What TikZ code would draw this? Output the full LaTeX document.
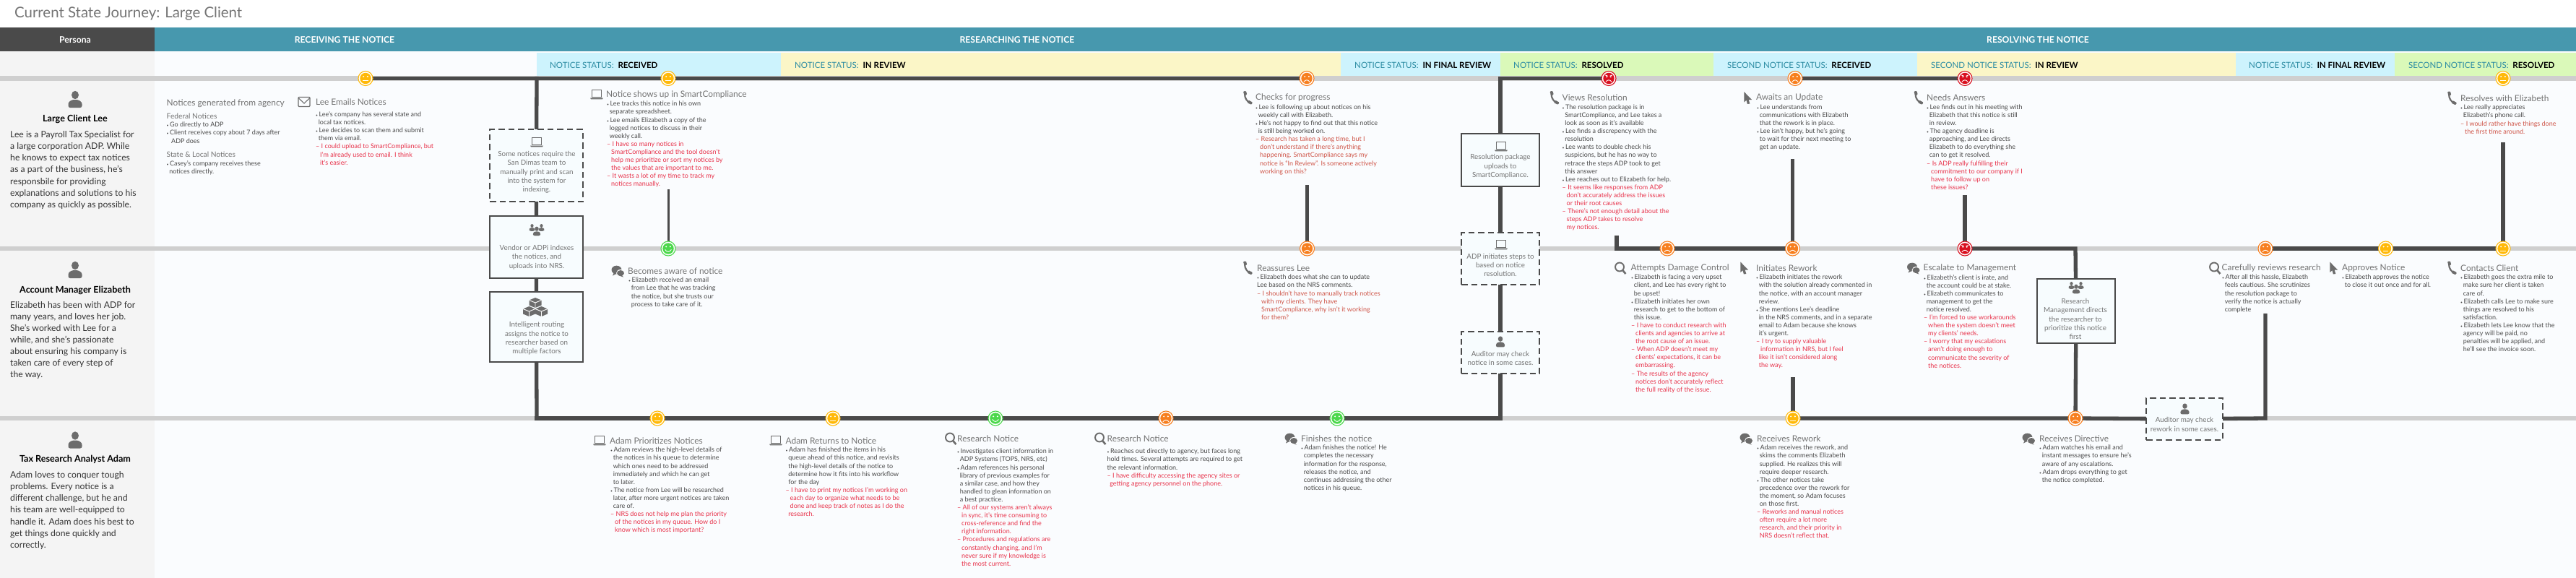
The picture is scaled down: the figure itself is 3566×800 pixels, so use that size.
\documentclass[tikz,border=0pt]{standalone}
\usepackage{fontspec}
\setmainfont{Lato}
\usetikzlibrary{backgrounds}
\definecolor{inkdark}{HTML}{4A4A4A}
\definecolor{rowgray}{HTML}{CFCFCF}
\definecolor{headteal}{HTML}{4798AE}
\definecolor{statusteal}{HTML}{2C8CA3}
\definecolor{statusblue}{HTML}{CDF3FD}
\definecolor{statusyellow}{HTML}{FBF6C7}
\definecolor{statusgreen}{HTML}{DAF9B9}
\definecolor{panelgray}{HTML}{F4F4F4}
\definecolor{panelblue}{HTML}{FAFCFE}
\definecolor{boxblue}{HTML}{F7FCFE}
\definecolor{headgray}{HTML}{747474}
\definecolor{bodygray}{HTML}{4A4A4A}
\definecolor{painred}{HTML}{E8324A}
\definecolor{mutedred}{HTML}{CF5548}
\definecolor{iconcolor}{HTML}{6C6C6C}
\definecolor{goodgreen}{HTML}{4CD84C}
\definecolor{plainyellow}{HTML}{FFB908}
\definecolor{sadorange}{HTML}{F77F1F}
\definecolor{madred}{HTML}{D9101F}
\newcommand{\itm}{{\fontsize{5}{5}\selectfont\textbullet}\,}
\newcommand{\ind}{\hspace*{3.6pt}}
\newcommand{\hurts}{\color{painred}}
\newcommand{\hurtsm}{\color{mutedred}}
\newcommand{\ri}{\color{painred}\hspace*{6pt}}
\newcommand{\rk}{\color{painred}\hspace*{3.6pt}}
\newcommand{\rj}{\color{mutedred}\hspace*{6pt}}
\tikzset{
every pic/.style={color=iconcolor},
title/.style={anchor=west, inner sep=0, text=headgray, font=\fontsize{20.4}{20.4}\selectfont},
headlabel/.style={inner sep=0, text=white, font=\fontsize{12.2}{12.2}\selectfont\bfseries},
statuslabel/.style={anchor=west, inner sep=0, text=statusteal, font=\fontsize{11.5}{11.5}\selectfont},
personaname/.style={inner sep=0, text=black, font=\fontsize{12.6}{12.6}\selectfont\bfseries},
personatext/.style={anchor=north west, inner sep=0, align=left, text=black!80, font=\fontsize{12.2}{16.1}\selectfont},
notehead/.style={anchor=west, inner sep=0, text=headgray, font=\fontsize{11.9}{11.9}\selectfont},
subhead/.style={anchor=west, inner sep=0, text=headgray, font=\fontsize{10.2}{10.2}\selectfont},
notebody/.style={anchor=north west, inner sep=0, align=left, text=bodygray, font=\fontsize{9}{11.1}\selectfont},
stepbox/.style={draw=inkdark, line width=2.5pt, fill=boxblue, inner sep=0},
maybebox/.style={stepbox, dash pattern=on 8.5pt off 5pt},
boxtext/.style={inner sep=0, align=center, text=headgray, font=\fontsize{9.8}{12.3}\selectfont},
rowline/.style={rowgray, line width=6.5pt},
track/.style={inkdark, line width=5.3pt, line cap=rect},
basicface/.style={circle, minimum size=20pt, inner sep=0, draw=#1, line width=1.1pt, fill=white},
goodface/.style={basicface=goodgreen, path picture={
	\fill[goodgreen] (path picture bounding box.center) circle (7.7pt);
	\begin{scope}[shift={(path picture bounding box.center)}, white, line width=.9pt]
	\fill (-2.8,-2.6) circle (1.1pt) (2.8,-2.6) circle (1.1pt);
	\draw (-4.4,1.4) .. controls (-2,5.4) and (2,5.4) .. (4.4,1.4);
	\end{scope}}},
plainface/.style={basicface=plainyellow, path picture={
	\fill[plainyellow] (path picture bounding box.center) circle (7.7pt);
	\begin{scope}[shift={(path picture bounding box.center)}, white, line width=.9pt]
	\fill (-2.8,-2.6) circle (1.1pt) (2.8,-2.6) circle (1.1pt);
	\draw (-3.8,3) -- (3.8,3);
	\end{scope}}},
sadface/.style={basicface=sadorange, path picture={
	\fill[sadorange] (path picture bounding box.center) circle (7.7pt);
	\begin{scope}[shift={(path picture bounding box.center)}, white, line width=.9pt]
	\fill (-2.8,-2.6) circle (1.1pt) (2.8,-2.6) circle (1.1pt);
	\draw (-4.2,5) .. controls (-2,1.4) and (2,1.4) .. (4.2,5);
	\end{scope}}},
madface/.style={basicface=madred, path picture={
	\fill[madred] (path picture bounding box.center) circle (7.7pt);
	\begin{scope}[shift={(path picture bounding box.center)}, white, line width=.9pt]
	\fill (-2.8,-2.2) circle (1.1pt) (2.8,-2.2) circle (1.1pt);
	\draw (-4.8,-4.6) -- (-1.4,-3.2) (4.8,-4.6) -- (1.4,-3.2);
	\draw (-4.2,5) .. controls (-2,1.4) and (2,1.4) .. (4.2,5);
	\end{scope}}},
pics/personicon/.style={code={
	\fill (0,-6) ellipse (5 and 5.7);
	\fill[rounded corners=2.5] (-9.5,11.5) -- (-9.5,4) -- (-4,.5) -- (4,.5) -- (9.5,4) -- (9.5,11.5) -- cycle;}},
pics/teamicon/.style={code={
	\pic[scale=.42] at (-6.5,-3) {personicon};
	\pic[scale=.42] at (6.5,-3) {personicon};
	\pic[scale=.55] at (0,2) {personicon};}},
pics/laptopicon/.style={code={
	\draw[line width=1.1pt] (-6.5,-6.5) rectangle (6.5,3.5);
	\fill (-9,4.5) -- (9,4.5) -- (8,6.3) -- (-8,6.3) -- cycle;}},
pics/mailicon/.style={code={
	\draw[line width=1.1pt, rounded corners=1pt] (-8,-6.5) rectangle (8,6.5);
	\draw[line width=1.1pt] (-8,-5.5) -- (0,2) -- (8,-5.5);}},
pics/phoneicon/.style={code={
	\draw[line width=2.2pt] (-4.5,-6) .. controls (-4.5,1) and (-1,5.5) .. (4,7);
	\fill[rounded corners=1pt] (-6.6,-9) -- (-2.6,-9.6) -- (-1.2,-4.5) -- (-4.8,-3.2) -- cycle;
	\fill[rounded corners=1pt] (1,3.2) -- (6.6,6.2) -- (4.8,9.4) -- (-.8,6.8) -- cycle;}},
pics/chaticon/.style={code={
	\fill (-1.5,-1.5) ellipse (7 and 5.8);
	\fill (-5,2) -- (-7,6.5) -- (-1,3.5) -- cycle;
	\fill[white] (4,3) ellipse (6 and 5);
	\fill (4,3) ellipse (5 and 4);
	\fill (5,5) -- (8,8.5) -- (2,6.5) -- cycle;}},
pics/lensicon/.style={code={
	\draw[line width=1.9pt] (-1,-1.5) circle (6);
	\draw[line width=2.6pt] (3.4,3.2) -- (7.4,8);}},
pics/cursoricon/.style={code={
	\fill (-5.2,-8.5) -- (5.6,2.6) -- (1.2,2.6) -- (2.8,8) -- (-.6,8.5) -- (-2,3.2) -- (-5.2,6) -- cycle;}},
pics/blockicon/.style={code={
	\fill (0,-7) -- (8.5,-3.5) -- (8.5,3.5) -- (0,7) -- (-8.5,3.5) -- (-8.5,-3.5) -- cycle;
	\draw[white, line width=.9pt] (-8.5,-3.5) -- (0,0) -- (8.5,-3.5) (0,0) -- (0,7);}},
pics/cubesicon/.style={code={
	\pic at (0,-6) {blockicon};
	\pic at (-8.5,6) {blockicon};
	\pic at (8.5,6) {blockicon};}}
}

\begin{document}
\begin{tikzpicture}[x=1pt, y=-1pt]
\useasboundingbox (0,0) rectangle (3566,800);

\node[title] (pagetitle) at (20,19) {Current State Journey: Large Client};
\node[headlabel] (personalabel) at (104,55) {Persona};
\node[headlabel] (receivinglabel) at (477,55) {RECEIVING THE NOTICE};
\node[headlabel] (researchinglabel) at (1408,55) {RESEARCHING THE NOTICE};
\node[headlabel] (resolvinglabel) at (2821,55) {RESOLVING THE NOTICE};

\node[statuslabel] (statusa) at (761,90) {NOTICE STATUS:\ \ \textcolor{black}{\bfseries RECEIVED}};
\node[statuslabel] (statusb) at (1100,90) {NOTICE STATUS:\ \ \textcolor{black}{\bfseries IN REVIEW}};
\node[statuslabel] (statusc) at (1875,90) {NOTICE STATUS:\ \ \textcolor{black}{\bfseries IN FINAL REVIEW}};
\node[statuslabel] (statusd) at (2095,90) {NOTICE STATUS:\ \ \textcolor{black}{\bfseries RESOLVED}};
\node[statuslabel] (statuse) at (2391,90) {SECOND NOTICE STATUS:\ \ \textcolor{black}{\bfseries RECEIVED}};
\node[statuslabel] (statusf) at (2673,90) {SECOND NOTICE STATUS:\ \ \textcolor{black}{\bfseries IN REVIEW}};
\node[statuslabel] (statusg) at (3113,90) {NOTICE STATUS:\ \ \textcolor{black}{\bfseries IN FINAL REVIEW}};
\node[statuslabel] (statush) at (3334,90) {SECOND NOTICE STATUS:\ \ \textcolor{black}{\bfseries RESOLVED}};

\pic[black] at (104,137.5) {personicon};
\node[personaname] (leename) at (104,165) {Large Client Lee};
\node[personatext] (leetext) at (14,181.5) {Lee is a Payroll Tax Specialist for\\a large corporation ADP. While\\he knows to expect tax notices\\as a part of the business, he’s\\responsbile for providing\\explanations and solutions to his\\company as quickly as possible.};
\pic[black] at (104,373.5) {personicon};
\node[personaname] (elizabethname) at (104,401.5) {Account Manager Elizabeth};
\node[personatext] (elizabethtext) at (14,417) {Elizabeth has been with ADP for\\many years, and loves her job.\\She’s worked with Lee for a\\while, and she’s passionate\\about ensuring his company is\\taken care of every step of\\the way.};
\pic[black] at (104,609) {personicon};
\node[personaname] (adamname) at (104,636) {Tax Research Analyst Adam};
\node[personatext] (adamtext) at (14,652.5) {Adam loves to conquer tough\\problems. Every notice is a\\different challenge, but he and\\his team are well-equipped to\\handle it. Adam does his best to\\get things done quickly and\\correctly.};

\node[plainface] (facea) at (506,108.5) {};
\node[plainface] (faceb) at (925,108.5) {};
\node[sadface] (facec) at (1809,108.5) {};
\node[madface] (faced) at (2227,108.5) {};
\node[sadface] (facee) at (2485,108.5) {};
\node[madface] (facef) at (2720,108.5) {};
\node[plainface] (faceg) at (3465,108.5) {};
\node[goodface] (middlea) at (925,344) {};
\node[sadface] (middleb) at (1809.5,344) {};
\node[sadface] (middlec) at (2308,344) {};
\node[sadface] (middled) at (2481.5,344) {};
\node[madface] (middlee) at (2720,344) {};
\node[sadface] (middlef) at (3136,344) {};
\node[plainface] (middleg) at (3302.5,344) {};
\node[plainface] (middleh) at (3465,344) {};
\node[plainface] (lowera) at (910,579) {};
\node[plainface] (lowerb) at (1153,579) {};
\node[goodface] (lowerc) at (1378,579) {};
\node[sadface] (lowerd) at (1614,579) {};
\node[goodface] (lowere) at (1851,579) {};
\node[plainface] (lowerf) at (2482,579) {};
\node[sadface] (lowerg) at (2873,579) {};

\coordinate (turna) at (743,108.5);
\coordinate (turnb) at (743,579);
\coordinate (turnc) at (2077,579);
\coordinate (turnd) at (2077,108.5);
\coordinate (turne) at (2873,344);
\coordinate (turnf) at (3136,579);
\coordinate (elbowa) at (2238,344);
\coordinate (stema) at (925,263.5);
\coordinate (stemb) at (1809.5,258.6);
\coordinate (stemc) at (2238,328.6);
\coordinate (stemd) at (2481.5,222.6);
\coordinate (steme) at (2720,272.6);
\coordinate (stemf) at (3136,436.6);
\coordinate (stemg) at (2482,524.6);
\coordinate (stemh) at (3465,199.6);

\node[maybebox, minimum width=129pt, minimum height=100pt] (printbox) at (742.5,229) {};
\pic at (743,197) {laptopicon};
\node[boxtext] (printtext) at (743,238.5) {Some notices require the\\San Dimas team to\\manually print and scan\\into the system for\\indexing.};
\node[stepbox, minimum width=129pt, minimum height=86pt] (vendorbox) at (742.5,342) {};
\pic at (743,318) {teamicon};
\node[boxtext] (vendortext) at (743,356) {Vendor or ADPi indexes\\the notices, and\\uploads into NRS.};
\node[stepbox, minimum width=129pt, minimum height=97pt] (routingbox) at (742.5,452.5) {};
\pic at (741,425) {cubesicon};
\node[boxtext] (routingtext) at (743,468.5) {Intelligent routing\\assigns the notice to\\researcher based on\\multiple factors};
\node[stepbox, minimum width=108pt, minimum height=73pt] (packagebox) at (2077,221.5) {};
\pic at (2078,203) {laptopicon};
\node[boxtext] (packagetext) at (2077,230.5) {Resolution package\\uploads to\\SmartCompliance.};
\node[maybebox, minimum width=108pt, minimum height=72pt] (stepsbox) at (2077,358) {};
\pic at (2078,339) {laptopicon};
\node[boxtext] (stepstext) at (2077,367) {ADP initiates steps to\\based on notice\\resolution.};
\node[maybebox, minimum width=108pt, minimum height=58pt] (auditorabox) at (2077,488) {};
\pic[scale=.65] at (2077,473) {personicon};
\node[boxtext] (auditoratext) at (2077,496) {Auditor may check\\notice in some cases.};
\node[stepbox, minimum width=108pt, minimum height=89pt] (managementbox) at (2874,430.5) {};
\pic[scale=1] at (2874,398) {teamicon};
\node[boxtext] (managementtext) at (2873,441.5) {Research\\Management directs\\the researcher to\\prioritize this notice\\first};
\node[maybebox, minimum width=106pt, minimum height=58pt] (auditorbbox) at (3024,580) {};
\pic[scale=.65] at (3024.5,566) {personicon};
\node[boxtext] (auditorbtext) at (3024,587.5) {Auditor may check\\rework in some cases.};

\node[notehead] (agencyhead) at (230.5,143) {Notices generated from agency};
\node[subhead] (federalhead) at (230.5,160.5) {Federal Notices};
\node[notebody] (federalbody) at (230.5,169) {\itm Go directly to ADP\\\itm Client receives copy about 7 days after\\\hspace*{6.5pt}ADP does};
\node[subhead] (statehead) at (230.5,214) {State \& Local Notices};
\node[notebody] (statebody) at (230.5,222) {\itm Casey’s company receives these\\\ind notices directly.};

\pic at (421,141) {mailicon};
\node[notehead] (emailshead) at (437,141) {Lee Emails Notices};
\node[notebody] (emailsbody) at (437,154.5) {\itm Lee’s company has several state and\\\ind local tax notices.\\\itm Lee decides to scan them and submit\\\ind them via email.\\\hurts – I could upload to SmartCompliance, but\\\ri I’m already used to email. I think\\\ri it’s easier.};

\pic at (826,131) {laptopicon};
\node[notehead] (showshead) at (839,131) {Notice shows up in SmartCompliance};
\node[notebody] (showsbody) at (840,140) {\itm Lee tracks this notice in his own\\\ind separate spreadsheet.\\\itm Lee emails Elizabeth a copy of the\\\ind logged notices to discuss in their\\\ind weekly call.\\\hurts – I have so many notices in\\\ri SmartCompliance and the tool doesn’t\\\ri help me prioritize or sort my notices by\\\ri the values that are important to me.\\\hurts – It wasts a lot of my time to track my\\\ri notices manually.};

\pic at (855,375) {chaticon};
\node[notehead] (awarehead) at (869,375) {Becomes aware of notice};
\node[notebody] (awarebody) at (870,384) {\itm Elizabeth received an email\\\ind from Lee that he was tracking\\\ind the notice, but she trusts our\\\ind process to take care of it.};

\pic at (830,610) {laptopicon};
\node[notehead] (prioritizehead) at (844,610) {Adam Prioritizes Notices};
\node[notebody] (prioritizebody) at (845,619) {\itm Adam reviews the high-level details of\\\ind the notices in his queue to determine\\\ind which ones need to be  addressed\\\ind immediately and which he can get\\\ind to later.\\\itm The notice from Lee will be researched\\\ind later, after more urgent notices are taken\\\ind care of.\\\hurts – NRS does not help me plan the priority\\\ri of the notices in my queue. How do I\\\ri know which is most important?};

\pic at (1074,610) {laptopicon};
\node[notehead] (returnshead) at (1087.5,610) {Adam Returns to Notice};
\node[notebody] (returnsbody) at (1087.5,619) {\itm Adam has finished the items in his\\\ind queue ahead of this notice, and revisits\\\ind the high-level details of  the notice to\\\ind determine how it fits into his workflow\\\ind for the day\\\hurts – I have to print my notices I’m working on\\\ri each day to organize what needs to be\\\ri done and keep track of notes as I do the\\\rk research.};

\pic at (1316,607) {lensicon};
\node[notehead] (researchahead) at (1325,607) {Research Notice};
\node[notebody] (researchabody) at (1325,621) {\itm Investigates client information in\\\ind ADP Systems (TOPS, NRS, etc)\\\itm Adam references his personal\\\ind library of previous examples for\\\ind a similar case, and how they\\\ind handled to glean information on\\\ind a best practice.\\\hurts – All of our systems aren’t always\\\ri in sync, it’s time consuming to\\\ri cross-reference and find the\\\ri right information.\\\hurts – Procedures and regulations are\\\ri constantly changing, and I’m\\\ri never sure if my knowledge is\\\ri the most current.};

\pic at (1523,607) {lensicon};
\node[notehead] (researchbhead) at (1532.5,607) {Research Notice};
\node[notebody] (researchbbody) at (1532.5,621) {\itm Reaches out directly to agency, but faces long\\hold times. Several attempts are required to get\\the relevant information.\\\hurts – I have difficulty accessing the agency sites or\\\rk getting agency personnel on the phone.};

\pic at (1787,607) {chaticon};
\node[notehead] (finisheshead) at (1801,607) {Finishes the notice};
\node[notebody] (finishesbody) at (1801,616) {\itm Adam finishes the notice! He\\\ind completes the necessary\\\ind information for the response,\\\ind releases the notice, and\\\ind continues addressing the other\\\ind notices in his queue.};

\pic at (1727.5,135.5) {phoneicon};
\node[notehead] (checkshead) at (1738,135.5) {Checks for progress};
\node[notebody] (checksbody) at (1738,144.5) {\itm Lee is following up about notices on his\\\ind weekly call with Elizabeth.\\\itm He’s not happy to find out that this notice\\\ind is still being worked on.\\\hurtsm – Research has taken a long time, but I\\\rj don’t understand if there’s anything\\\rj happening. SmartCompliance says my\\\rj notice is “In Review”. Is someone actively\\\rj working on this?};

\pic at (1727.5,371) {phoneicon};
\node[notehead] (reassureshead) at (1740,371) {Reassures Lee};
\node[notebody] (reassuresbody) at (1740,380) {\itm Elizabeth does what she can to update\\Lee based on the NRS comments.\\\hurtsm – I shouldn’t have to manually track notices\\\rj with my clients. They have\\\rj SmartCompliance, why isn’t it working\\\rj for them?};

\pic at (2152,135.5) {phoneicon};
\node[notehead] (viewshead) at (2162.5,135.5) {Views Resolution};
\node[notebody] (viewsbody) at (2162.5,144.5) {\itm The resolution package is in\\\ind SmartCompliance, and Lee takes a\\\ind look as soon as it’s available\\\itm Lee finds a discrepency with the\\\ind resolution\\\itm Lee wants to double check his\\\ind suspicions, but he has no way to\\\ind retrace the steps ADP took to get\\\ind this answer\\\itm Lee reaches out to Elizabeth for help.\\\hurts – It seems like responses from ADP\\\ri don’t accurately address the issues\\\ri or their root causes\\\hurts – There’s not enough detail about the\\\ri steps ADP takes to resolve\\\ri my notices.};

\pic at (2419.5,135.5) {cursoricon};
\node[notehead] (awaitshead) at (2431,135.5) {Awaits an Update};
\node[notebody] (awaitsbody) at (2432,144.5) {\itm Lee understands from\\\ind communications with Elizabeth\\\ind that the rework is in place.\\\itm Lee isn’t happy, but he’s going\\\ind to wait for their next meeting to\\\ind get an update.};

\pic at (2656,135.5) {phoneicon};
\node[notehead] (answershead) at (2667,135.5) {Needs Answers};
\node[notebody] (answersbody) at (2667,144.5) {\itm Lee finds out in his meeting with\\\ind Elizabeth that this notice is still\\\ind in review.\\\itm The agency deadline is\\\ind approaching, and Lee directs\\\ind Elizabeth to do everything she\\\ind can to get it resolved.\\\hurts – Is ADP really fulfilling their\\\ri commitment to our company if I\\\ri have to follow up on\\\ri these issues?};

\pic at (2243,371) {lensicon};
\node[notehead] (damagehead) at (2257.5,371) {Attempts Damage Control};
\node[notebody] (damagebody) at (2258,380) {\itm Elizabeth is facing a very upset\\\ind client, and Lee has every right to\\\ind be upset!\\\itm Elizabeth initiates her own\\\ind research to get to the bottom of\\\ind this issue.\\\hurts – I have to conduct research with\\\ri clients and agencies to arrive at\\\ri the root cause of an issue.\\\hurts – When ADP doesn’t meet my\\\ri clients’ expectations, it can be\\\ri embarrassing.\\\hurts – The results of the agency\\\ri notices don’t accurately reflect\\\ri the full reality of the issue.};

\pic at (2414.5,371) {cursoricon};
\node[notehead] (reworkhead) at (2431,371) {Initiates Rework};
\node[notebody] (reworkbody) at (2431,380) {\itm Elizabeth initiates the rework\\\ind with the solution already commented in\\\ind the notice, with an account manager\\\ind review.\\\itm She mentions Lee’s deadline\\\ind in the NRS comments, and in a separate\\\ind email to Adam because she knows\\\ind it’s urgent.\\\hurts – I try to supply valuable\\\ri information in NRS, but I feel\\\rk like it isn’t considered along\\\rk the way.};

\pic at (2648.5,371) {chaticon};
\node[notehead] (escalatehead) at (2662.5,371) {Escalate to Management};
\node[notebody] (escalatebody) at (2663,380) {\itm Elizabeth’s client is irate, and\\\ind the account could be at stake.\\\itm Elizabeth communicates to\\\ind management to get the\\\ind notice resolved.\\\hurts – I’m forced to use workarounds\\\ri when the system doesn’t meet\\\ri my clients’ needs.\\\hurts – I worry that my escalations\\\ri aren’t doing enough to\\\ri communicate the severity of\\\ri the notices.};

\pic at (2417,607) {chaticon};
\node[notehead] (receivesahead) at (2432,607) {Receives Rework};
\node[notebody] (receivesabody) at (2432,616) {\itm Adam receives the rework, and\\\ind skims the comments Elizabeth\\\ind supplied. He realizes this will\\\ind require deeper research.\\\itm The other notices take\\\ind precedence over the rework for\\\ind the moment, so Adam focuses\\\ind on those first.\\\hurts – Reworks and manual notices\\\rk often require a lot more\\\rk research, and their priority in\\\rk NRS doesn’t reflect that.};

\pic at (2808,607) {chaticon};
\node[notehead] (receivesbhead) at (2823,607) {Receives Directive};
\node[notebody] (receivesbbody) at (2823,616) {\itm Adam watches his email and\\\ind instant messages to ensure he’s\\\ind aware of any escalations.\\\itm Adam drops everything to get\\\ind the notice completed.};

\pic at (3066,371) {lensicon};
\node[notehead] (carefulhead) at (3075.5,371) {Carefully reviews research};
\node[notebody] (carefulbody) at (3076,380) {\itm After all this hassle, Elizabeth\\\ind feels cautious. She scrutinizes\\\ind the resolution package to\\\ind verify the notice is actually\\\ind complete};

\pic at (3230.5,371) {cursoricon};
\node[notehead] (approveshead) at (3242,371) {Approves Notice};
\node[notebody] (approvesbody) at (3242,380) {\itm Elizabeth approves the notice\\\ind to close it out once and for all.};

\pic at (3394.5,371) {phoneicon};
\node[notehead] (contactshead) at (3406,371) {Contacts Client};
\node[notebody] (contactsbody) at (3406,380) {\itm Elizabeth goes the extra mile to\\\ind make sure her client is taken\\\ind care of.\\\itm Elizabeth calls Lee to make sure\\\ind things are resolved to his\\\ind satisfaction.\\\itm Elizabeth lets Lee know that the\\\ind agency will be paid, no\\\ind penalties will be applied, and\\\ind he’ll see the invoice soon.};

\pic at (3394.5,136) {phoneicon};
\node[notehead] (resolveshead) at (3406,136) {Resolves with Elizabeth};
\node[notebody] (resolvesbody) at (3406,145) {\itm Lee really appreciates\\\ind Elizabeth’s phone call.\\\hurtsm – I would rather have things done\\\rj the first time around.};

\begin{scope}[on background layer]
\fill[panelgray] (0,71) rectangle (214,800);
\fill[panelblue] (214,71) rectangle (3566,800);
\fill[inkdark] (0,38) rectangle (214,71);
\fill[headteal] (214,38) rectangle (3566,71);
\fill[statusblue] (743,73) rectangle (1081,106);
\fill[statusyellow] (1081,73) rectangle (1856,106);
\fill[statusblue] (1856,73) rectangle (2077,106);
\fill[statusgreen] (2077,73) rectangle (2372,106);
\fill[statusblue] (2372,73) rectangle (2654,106);
\fill[statusyellow] (2654,73) rectangle (3095,106);
\fill[statusblue] (3095,73) rectangle (3315,106);
\fill[statusgreen] (3315,73) rectangle (3566,106);
\draw[rowline] (0,108.5) -- (3566,108.5);
\draw[rowline] (0,344) -- (3566,344);
\draw[rowline] (0,579) -- (3566,579);

\draw[track] (facea) -- (turna) -- (faceb) -- (facec);
\draw[track] (turnd) -- (faced);
\draw[track] (facee) -- (facef);
\draw[track] (turna) -- (printbox) -- (vendorbox) -- (routingbox) -- (turnb);
\draw[track] (turnb) -- (lowera) -- (lowerb) -- (lowerc) -- (lowerd) -- (lowere) -- (turnc);
\draw[track] (turnc) -- (auditorabox) -- (stepsbox) -- (packagebox) -- (turnd);
\draw[track, line width=3pt] (stema) -- (middlea);
\draw[track] (stemb) -- (middleb);
\draw[track] (stemc) -- (elbowa) -- (middlec) -- (middled);
\draw[track] (stemd) -- (middled);
\draw[track] (steme) -- (middlee);
\draw[track] (middlee) -- (turne) -- (managementbox) -- (lowerg);
\draw[track] (stemg) -- (lowerf);
\draw[track] (lowerf) -- (lowerg) -- (auditorbbox) -- (turnf) -- (stemf);
\draw[track] (middlef) -- (middleg) -- (middleh);
\draw[track] (stemh) -- (middleh);
\end{scope}
\end{tikzpicture}
\end{document}
